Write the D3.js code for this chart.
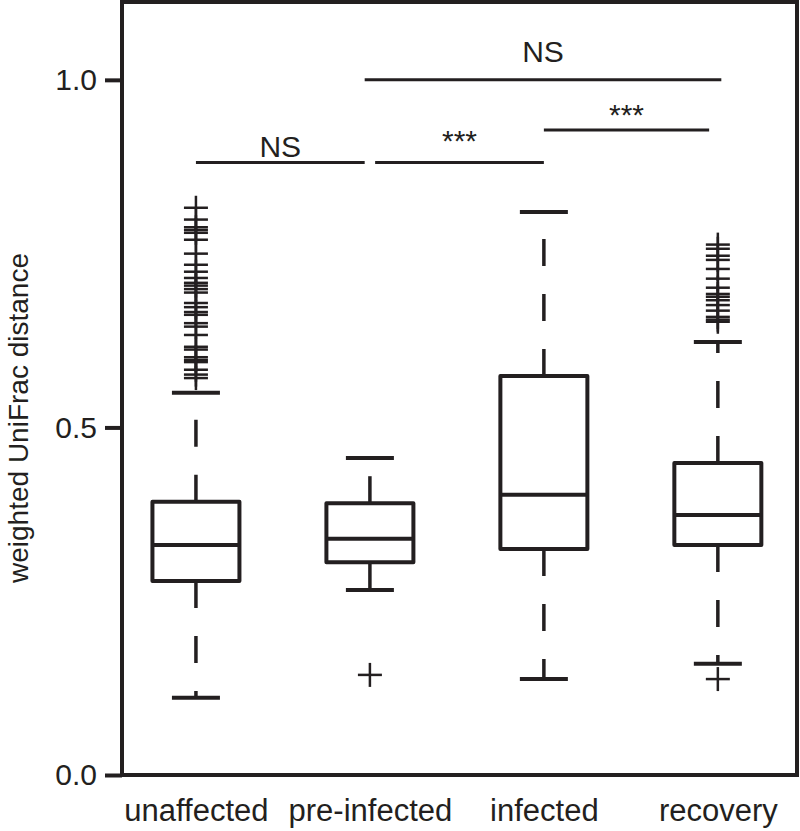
<!DOCTYPE html>
<html><head><meta charset="utf-8">
<script src="https://cdn.jsdelivr.net/npm/d3@7"></script>
<style>body{margin:0;background:#fff}</style></head><body>
<svg id="c" width="800" height="831"></svg>
<script>
const categories = ["unaffected", "pre-infected", "infected", "recovery"];
const q1 = [0.279, 0.306, 0.325, 0.331];
const medians = [0.331, 0.340, 0.403, 0.374];
const q3 = [0.393, 0.391, 0.574, 0.449];
const whiskerLow = [0.111, 0.266, 0.138, 0.160];
const whiskerHigh = [0.550, 0.456, 0.810, 0.623];
const outliersUnaffected = [0.816, 0.799, 0.788, 0.784, 0.780, 0.770, 0.750, 0.734, 0.724, 0.715, 0.708, 0.704, 0.699, 0.694, 0.679, 0.673, 0.666, 0.662, 0.650, 0.645, 0.633, 0.616, 0.612, 0.601, 0.597, 0.594, 0.583, 0.576, 0.571];
const outliersPreInfected = [0.144];
const outliersInfected = [];
const outliersRecovery = [0.763, 0.757, 0.747, 0.741, 0.728, 0.714, 0.701, 0.692, 0.688, 0.683, 0.676, 0.668, 0.659, 0.655, 0.652, 0.138];
const yTicks = [0.0, 0.5, 1.0];
const bracketFrom = [1, 2.03, 3, 1.97];
const bracketTo = [1.97, 3, 3.95, 4.02];
const bracketLevel = [0.881, 0.881, 0.928, 1.0];
const bracketLabel = ["NS", "***", "***", "NS"];

const outliers = [outliersUnaffected, outliersPreInfected, outliersInfected, outliersRecovery];
const ink = "#231f20";
const font = "'Liberation Sans', Arial, Helvetica, sans-serif";

const svg = d3.select("#c");
const x = d3.scaleLinear().domain([0.575, 4.455]).range([122, 797]);
const y = d3.scaleLinear().domain([0, 1.112]).range([775, 2]);

// y axis ticks
const yAxis = d3.axisLeft(y).tickValues(yTicks).tickFormat(d3.format(".1f")).tickSize(17).tickPadding(8);
const ga = svg.append("g").attr("transform", "translate(122,0)").call(yAxis);
ga.select(".domain").remove();
ga.selectAll(".tick line").attr("stroke", ink).attr("stroke-width", 4);
ga.selectAll(".tick text").attr("font-family", font).attr("font-size", 30).attr("fill", ink);

// x labels
const xAxis = d3.axisBottom(x).tickValues([1, 2, 3, 4]).tickFormat((d, i) => categories[i]).tickSize(0).tickPadding(24);
const gx = svg.append("g").attr("transform", "translate(0,775)").call(xAxis);
gx.select(".domain").remove();
gx.selectAll(".tick text").attr("font-family", font).attr("font-size", 31).attr("fill", ink);

// frame
svg.append("rect").attr("x", x(0.575)).attr("y", y(1.112)).attr("width", x(4.455) - x(0.575)).attr("height", y(0) - y(1.112))
  .attr("fill", "none").attr("stroke", ink).attr("stroke-width", 4);

// y label
svg.append("text").attr("transform", "translate(28,418) rotate(-90)")
  .attr("text-anchor", "middle").attr("font-family", font).attr("font-size", 28).attr("fill", ink)
  .text("weighted UniFrac distance");

const boxW = 87 / (x(2) - x(1));
const capW = 48 / (x(2) - x(1));
const g = svg.append("g").attr("stroke", ink).attr("fill", "none");
categories.forEach((c, i) => {
  const cx = i + 1;
  g.append("line").attr("x1", x(cx)).attr("x2", x(cx)).attr("y1", y(q3[i])).attr("y2", y(whiskerHigh[i]))
    .attr("stroke-width", 3.5).attr("stroke-dasharray", "27,28");
  g.append("line").attr("x1", x(cx)).attr("x2", x(cx)).attr("y1", y(q1[i])).attr("y2", y(whiskerLow[i]))
    .attr("stroke-width", 3.5).attr("stroke-dasharray", "27,28");
  [whiskerHigh[i], whiskerLow[i]].forEach(v => {
    g.append("line").attr("x1", x(cx - capW / 2)).attr("x2", x(cx + capW / 2)).attr("y1", y(v)).attr("y2", y(v)).attr("stroke-width", 4);
  });
  g.append("rect").attr("x", x(cx - boxW / 2)).attr("y", y(q3[i])).attr("width", x(cx + boxW / 2) - x(cx - boxW / 2))
    .attr("height", y(q1[i]) - y(q3[i])).attr("stroke-width", 4).attr("stroke-linejoin", "round");
  g.append("line").attr("x1", x(cx - boxW / 2)).attr("x2", x(cx + boxW / 2)).attr("y1", y(medians[i])).attr("y2", y(medians[i])).attr("stroke-width", 4);
  outliers[i].forEach(v => {
    g.append("line").attr("x1", x(cx) - 12).attr("x2", x(cx) + 12).attr("y1", y(v)).attr("y2", y(v)).attr("stroke-width", 2.5);
    g.append("line").attr("x1", x(cx)).attr("x2", x(cx)).attr("y1", y(v) - 12).attr("y2", y(v) + 12).attr("stroke-width", 2.5);
  });
});

// significance brackets
const labelOffset = [6, 12, 5, 18];
bracketLabel.forEach((lab, i) => {
  g.append("line").attr("x1", x(bracketFrom[i])).attr("x2", x(bracketTo[i])).attr("y1", y(bracketLevel[i])).attr("y2", y(bracketLevel[i])).attr("stroke-width", 3);
  const mid = (bracketFrom[i] + bracketTo[i]) / 2;
  const isStar = lab === "***";
  svg.append("text").attr("x", x(mid)).attr("y", y(bracketLevel[i]) - labelOffset[i])
    .attr("text-anchor", "middle").attr("font-family", font).attr("font-size", isStar ? 30 : 30).attr("fill", ink).text(lab);
});
</script>
</body></html>
